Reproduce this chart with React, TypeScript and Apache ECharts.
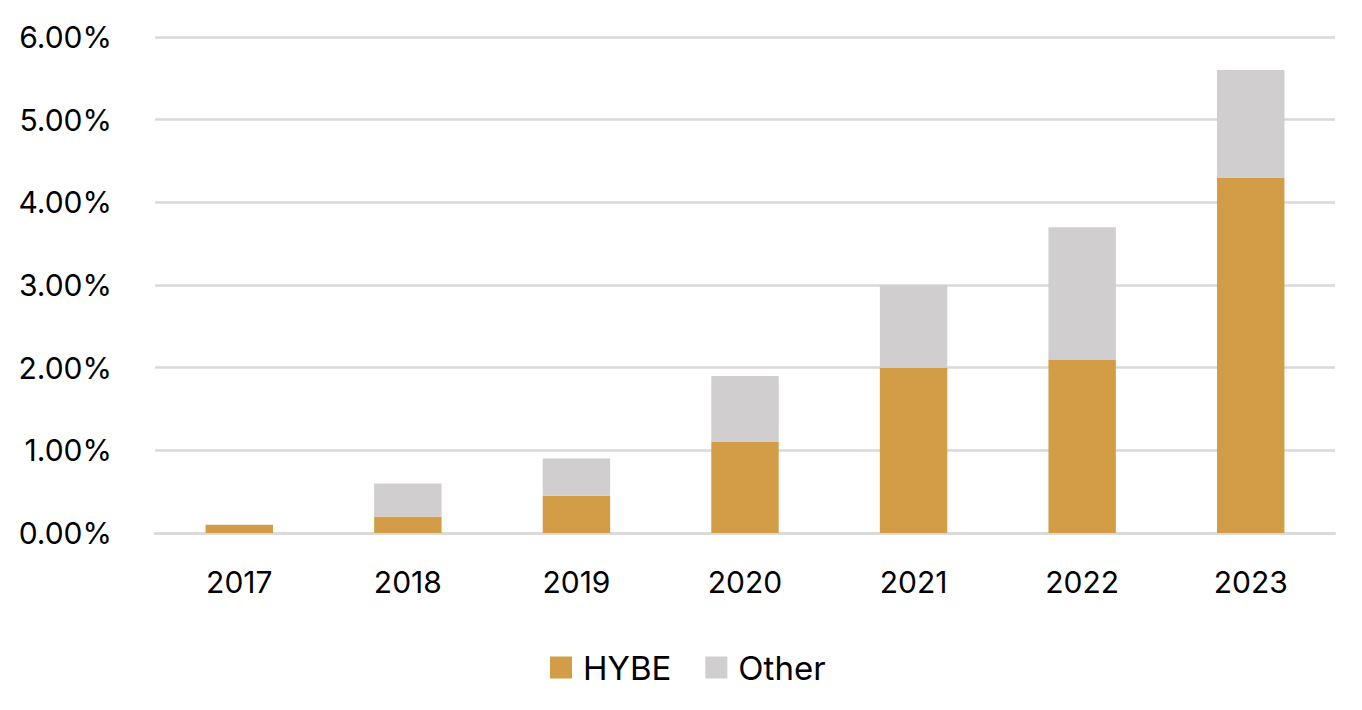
import React, { useEffect, useRef } from "react";
import * as echarts from "echarts";

const categories = ["2017", "2018", "2019", "2020", "2021", "2022", "2023"];
const hybe = [0.1, 0.2, 0.45, 1.1, 2.0, 2.1, 4.3];
const other = [0, 0.4, 0.45, 0.8, 1.0, 1.6, 1.3];
const seriesNames = ["HYBE", "Other"];
const colors = ["#D39D48", "#D0CECE"];

export default function App() {
  const ref = useRef<HTMLDivElement>(null);
  useEffect(() => {
    const chart = echarts.init(ref.current!, undefined, { renderer: "svg" });
    const font = "Inter, 'Liberation Sans', sans-serif";
    chart.setOption({
      animation: false,
      grid: { left: 155, right: 27, top: 37, bottom: 177, containLabel: false },
      legend: {
        data: seriesNames,
        left: 550,
        top: 651,
        padding: 0,
        itemWidth: 22,
        itemHeight: 22,
        itemGap: 34,
        icon: "rect",
        textStyle: { fontSize: 33, color: "#000", fontFamily: font, padding: [0, 0, 0, 6] },
      },
      xAxis: {
        type: "category",
        data: categories,
        axisLine: { show: true, lineStyle: { color: "#D9D9D9", width: 2.5 } },
        axisTick: { show: false },
        axisLabel: { fontSize: 30, color: "#000", fontFamily: font, margin: 34 },
      },
      yAxis: {
        type: "value",
        min: 0,
        max: 6,
        interval: 1,
        axisLine: { show: false },
        axisTick: { show: false },
        splitLine: { lineStyle: { color: "#D9D9D9", width: 2.5 } },
        axisLabel: {
          fontSize: 30,
          color: "#000",
          fontFamily: font,
          margin: 43,
          formatter: (v: number) => v.toFixed(2) + "%",
        },
      },
      series: [
        {
          name: seriesNames[0],
          type: "bar",
          stack: "total",
          data: hybe,
          barWidth: "40%",
          itemStyle: { color: colors[0] },
        },
        {
          name: seriesNames[1],
          type: "bar",
          stack: "total",
          data: other,
          barWidth: "40%",
          itemStyle: { color: colors[1] },
        },
      ],
    });
    return () => chart.dispose();
  }, []);
  return (
    <div
      ref={ref}
      style={{ position: "fixed", left: 0, top: 0, width: 1362, height: 710, background: "#fff" }}
    />
  );
}
